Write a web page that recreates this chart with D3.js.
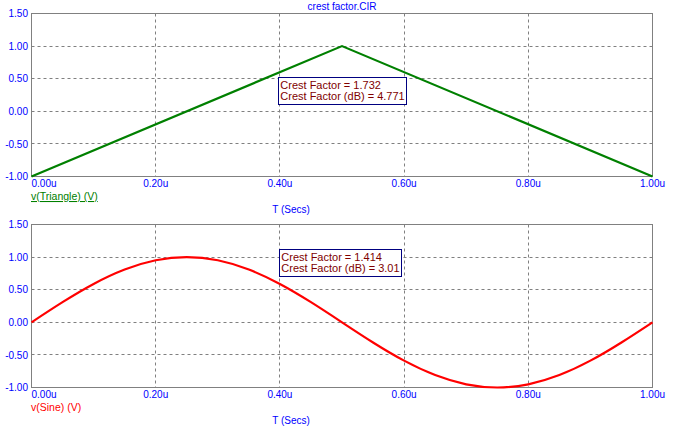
<!DOCTYPE html>
<html>
<head>
<meta charset="utf-8">
<script src="https://cdn.jsdelivr.net/npm/d3@7/dist/d3.min.js"></script>
<style>
  html, body { margin: 0; padding: 0; background: #fff; }
  svg { display: block; }
  text { font-family: Arial, "Liberation Sans", sans-serif; }
</style>
</head>
<body>
<svg id="chart" width="679" height="431"></svg>
<script>
// ---- data ----
const chartTitle = "crest factor.CIR";
const xTicks = [0, 0.2, 0.4, 0.6, 0.8, 1.0];
const xTickLabels = ["0.00u", "0.20u", "0.40u", "0.60u", "0.80u", "1.00u"];
const yTicks = [-1.0, -0.5, 0.0, 0.5, 1.0, 1.5];
const yTickLabels = ["-1.00", "-0.50", "0.00", "0.50", "1.00", "1.50"];
const xAxisLabel = "T (Secs)";

const triangleTime = [0, 0.5, 1.0];
const triangleValue = [-1.0, 1.0, -1.0];

const sineTime = [0, 0.05, 0.10, 0.15, 0.20, 0.25, 0.30, 0.35, 0.40, 0.45, 0.50,
                  0.55, 0.60, 0.65, 0.70, 0.75, 0.80, 0.85, 0.90, 0.95, 1.00];
const sineValue = [0, 0.309, 0.588, 0.809, 0.951, 1.0, 0.951, 0.809, 0.588, 0.309, 0,
                   -0.309, -0.588, -0.809, -0.951, -1.0, -0.951, -0.809, -0.588, -0.309, 0];

const triangleLegend = "v(Triangle) (V)";
const sineLegend = "v(Sine) (V)";
const triangleNotes = ["Crest Factor = 1.732", "Crest Factor (dB) = 4.771"];
const sineNotes = ["Crest Factor = 1.414", "Crest Factor (dB) = 3.01"];

// ---- layout ----
const svg = d3.select("#chart");
const left = 31.5, right = 652.5;
const panels = [
  { top: 13.5, bottom: 176.5, t: triangleTime, v: triangleValue, color: "#008000", underline: true,
    legend: triangleLegend, notes: triangleNotes, box: { x: 278.5, y: 77.5 }, curve: d3.curveLinear },
  { top: 224.5, bottom: 387.5, t: sineTime, v: sineValue, color: "#ff0000", underline: false,
    legend: sineLegend, notes: sineNotes, box: { x: 279.5, y: 249.5 }, curve: d3.curveNatural }
];

const blue = "#0000ff";
const gridColor = "#808080";

svg.append("text")
  .attr("x", (left + right) / 2).attr("y", 10)
  .attr("text-anchor", "middle")
  .attr("font-size", "10px").attr("fill", blue)
  .text(chartTitle);

panels.forEach(p => {
  const x = d3.scaleLinear().domain([0, 1]).range([left, right]);
  const y = d3.scaleLinear().domain([-1, 1.5]).range([p.bottom, p.top]);
  const g = svg.append("g");

  // grid
  g.selectAll("line.hg").data(yTicks.slice(1, -1)).join("line")
    .attr("x1", left).attr("x2", right)
    .attr("y1", d => Math.round(y(d) - 0.5) + 0.5).attr("y2", d => Math.round(y(d) - 0.5) + 0.5)
    .attr("stroke", gridColor).attr("stroke-dasharray", "3,3").attr("stroke-width", 1);
  g.selectAll("line.vg").data(xTicks.slice(1, -1)).join("line")
    .attr("y1", p.top).attr("y2", p.bottom)
    .attr("x1", d => Math.round(x(d) - 0.5) + 0.5).attr("x2", d => Math.round(x(d) - 0.5) + 0.5)
    .attr("stroke", gridColor).attr("stroke-dasharray", "3,3").attr("stroke-width", 1);

  // frame
  g.append("rect")
    .attr("x", left).attr("y", p.top)
    .attr("width", right - left).attr("height", p.bottom - p.top)
    .attr("fill", "none").attr("stroke", gridColor).attr("stroke-width", 1);

  // y tick labels
  g.selectAll("text.yt").data(yTicks).join("text")
    .attr("x", 28).attr("y", d => y(d) + 3.6)
    .attr("text-anchor", "end").attr("font-size", "10px").attr("fill", blue)
    .text((d, i) => yTickLabels[i]);

  // x tick labels
  g.selectAll("text.xt").data(xTicks).join("text")
    .attr("x", d => x(d)).attr("y", p.bottom + 10)
    .attr("text-anchor", (d, i) => i === 0 ? "start" : "middle")
    .attr("font-size", "10px").attr("fill", blue)
    .text((d, i) => xTickLabels[i]);

  // x axis label
  g.append("text")
    .attr("x", 291).attr("y", p.bottom + 36.5)
    .attr("text-anchor", "middle").attr("font-size", "10px").attr("fill", blue)
    .text(xAxisLabel);

  // legend
  g.append("text")
    .attr("x", left - 0.5).attr("y", p.bottom + 23.5)
    .attr("font-size", "10.5px").attr("fill", p.color)
    .attr("text-decoration", p.underline ? "underline" : "none")
    .text(p.legend);

  // curve
  const pts = p.t.map((t, i) => [t, p.v[i]]);
  g.append("path")
    .datum(pts)
    .attr("d", d3.line().x(d => x(d[0])).y(d => y(d[1])).curve(p.curve))
    .attr("fill", "none").attr("stroke", p.color).attr("stroke-width", 2.2);

  // annotation box
  const bg = g.append("g");
  const rect = bg.append("rect").attr("fill", "#fff").attr("stroke", "#000080").attr("stroke-width", 1);
  const texts = bg.selectAll("text").data(p.notes).join("text")
    .attr("x", p.box.x + 1.8).attr("y", (d, i) => p.box.y + 11 + i * 11.7)
    .attr("font-size", "11px").attr("fill", "#800000")
    .text(d => d);
  let maxW = 0;
  texts.each(function () { maxW = Math.max(maxW, this.getComputedTextLength()); });
  rect.attr("x", p.box.x).attr("y", p.box.y)
    .attr("width", Math.round(maxW + 4)).attr("height", 27);
});
</script>
</body>
</html>
